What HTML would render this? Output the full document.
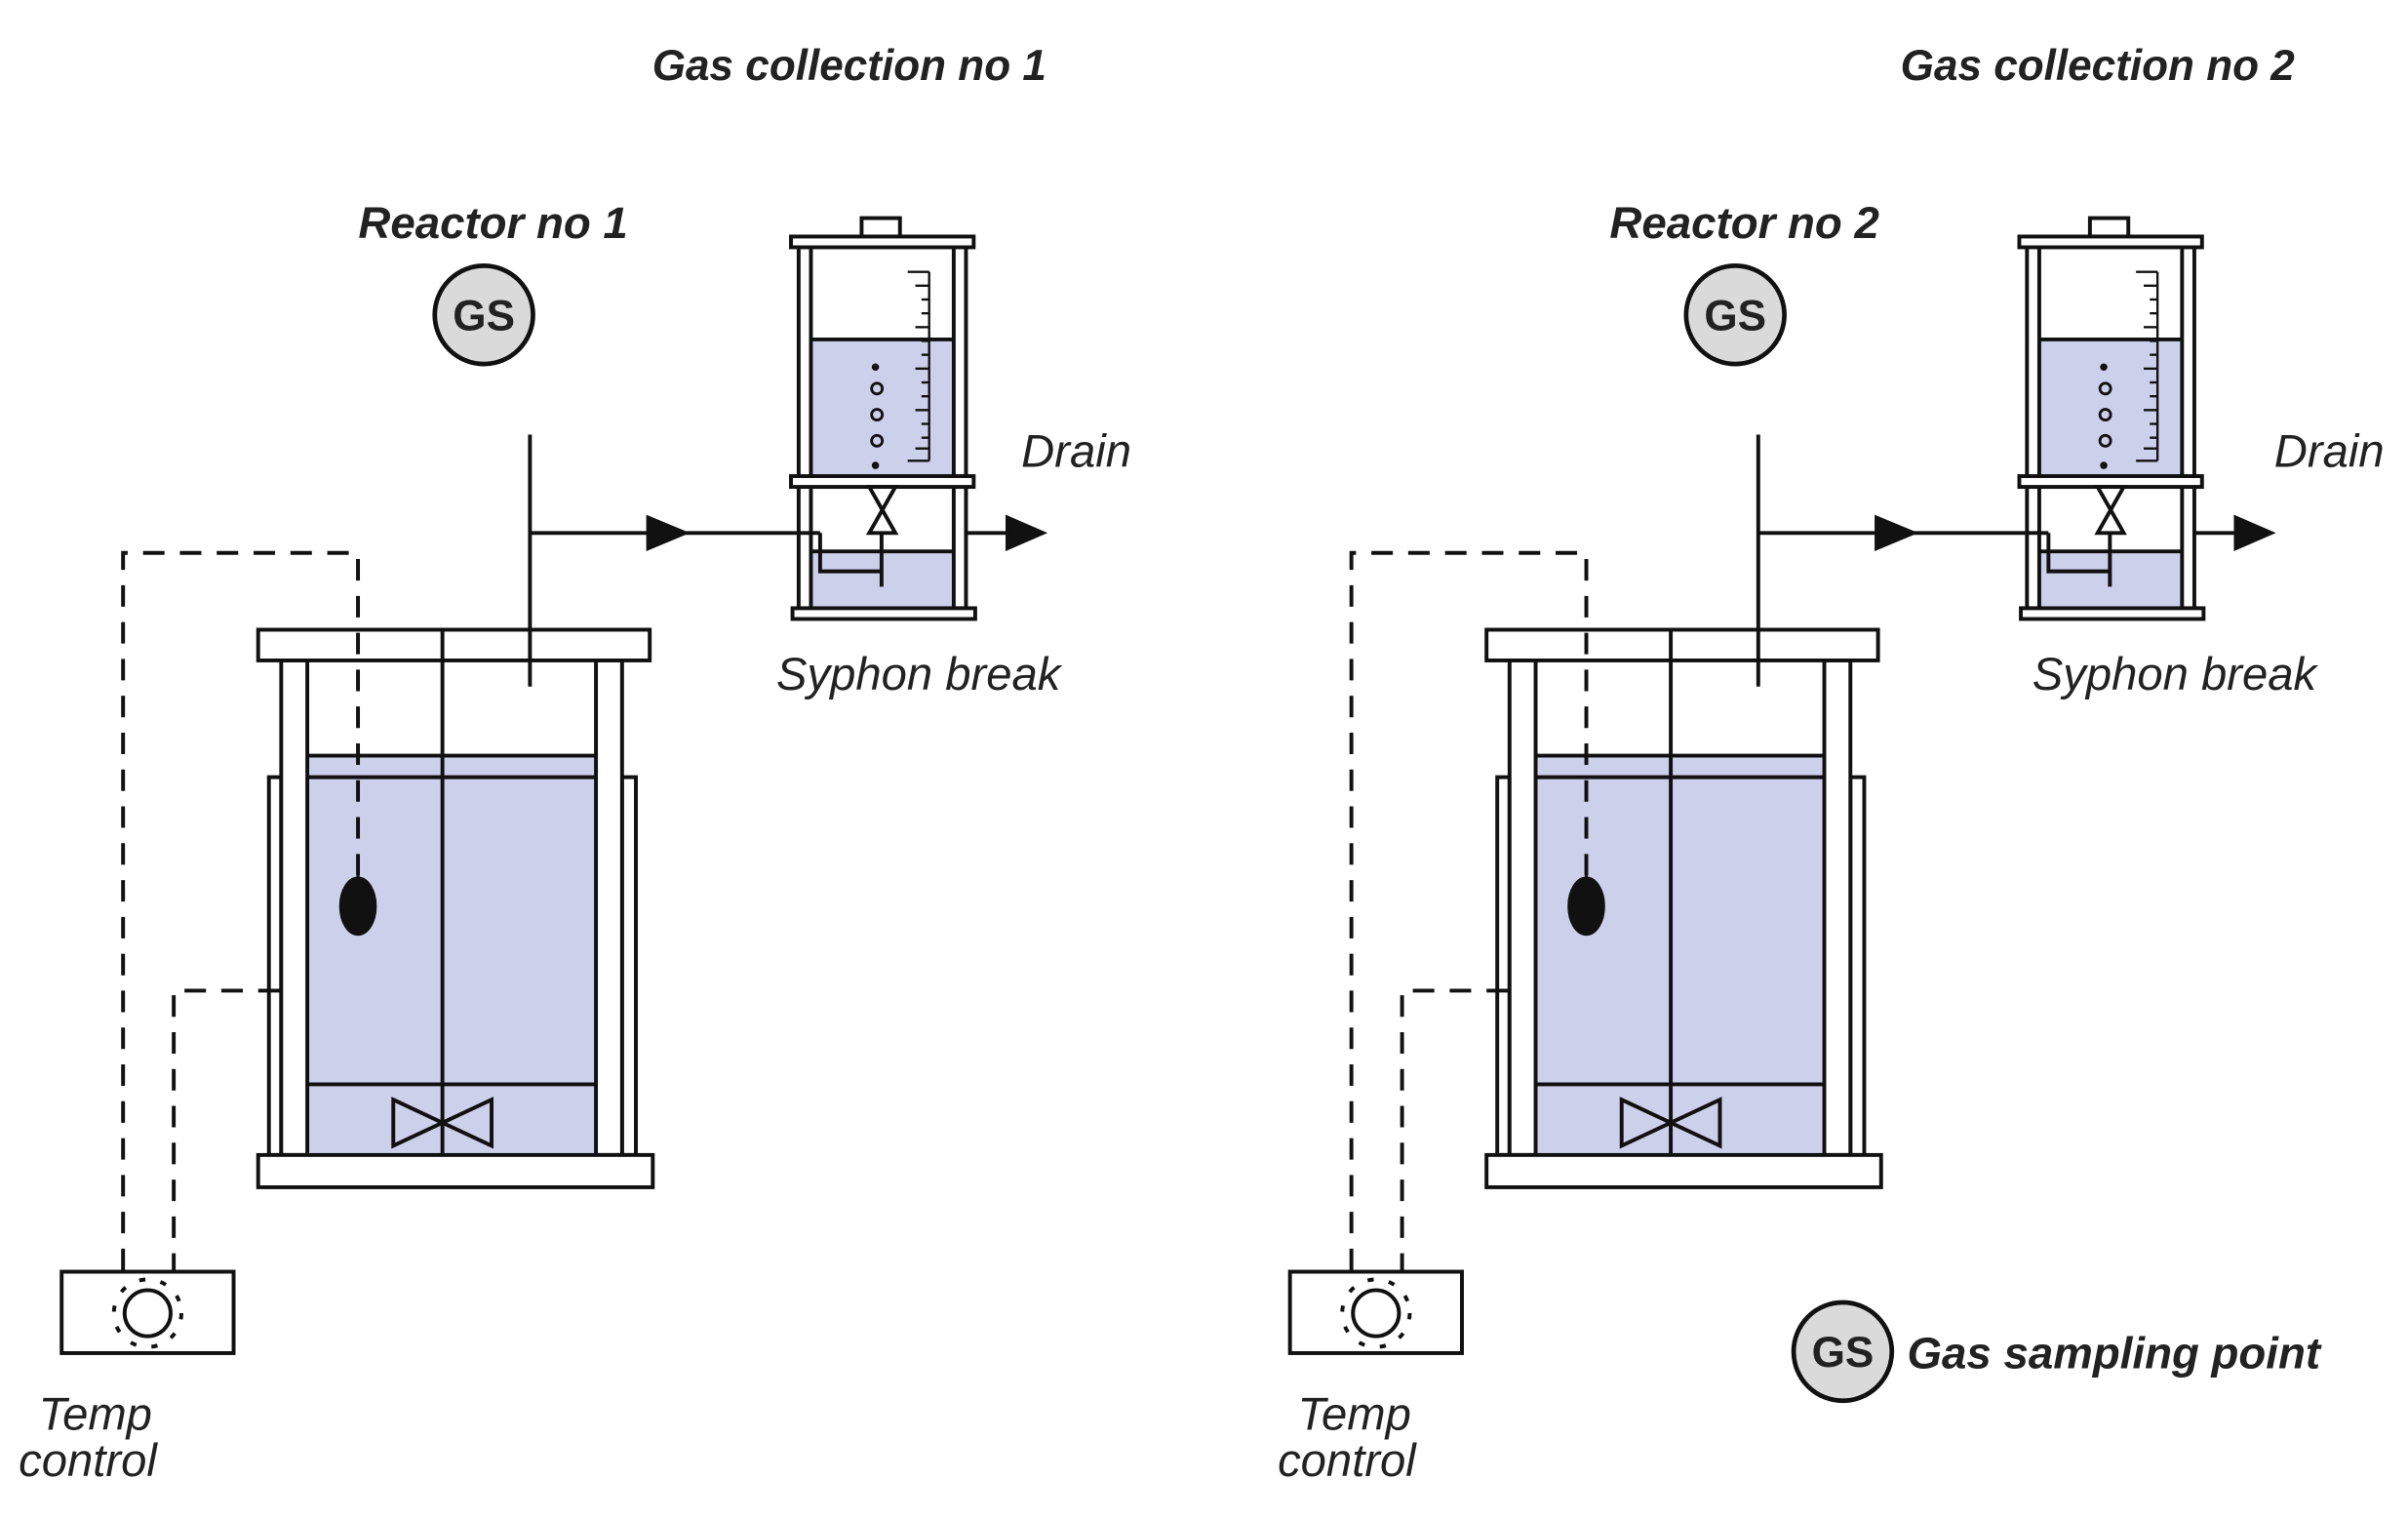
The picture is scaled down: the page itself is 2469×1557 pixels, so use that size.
<!DOCTYPE html>
<html><head><meta charset="utf-8"><style>
html,body{margin:0;padding:0;background:#fff;}
svg{display:block;}
text{font-family:"Liberation Sans",sans-serif;fill:#222;}
.b{font-weight:bold;font-style:italic;}
.i{font-style:italic;}
</style></head><body>
<svg width="2469" height="1557" viewBox="0 0 1568 989" xmlns="http://www.w3.org/2000/svg">
<defs>
<g id="unit" stroke="#111" stroke-width="2.5" fill="none">
  <rect x="200" y="492" width="188" height="260" fill="#ccd0ea" stroke="none"/>
  <line x1="200" y1="492" x2="388" y2="492"/>
  <line x1="200" y1="506" x2="388" y2="506"/>
  <line x1="200" y1="706" x2="388" y2="706"/>
  <rect x="175" y="506" width="8" height="246" fill="#fff"/>
  <rect x="405" y="506" width="9" height="246" fill="#fff"/>
  <rect x="183" y="430" width="17" height="322" fill="#fff"/>
  <rect x="388" y="430" width="17" height="322" fill="#fff"/>
  <rect x="168" y="410" width="255" height="20" fill="#fff"/>
  <rect x="168" y="752" width="257" height="21" fill="#fff"/>
  <line x1="288" y1="410" x2="288" y2="752"/>
  <path d="M256 716 L320 746 L320 716 L256 746 Z"/>
  <line x1="345" y1="283" x2="345" y2="447"/>
  <line x1="345" y1="347" x2="534" y2="347"/>
  <path d="M422 337 L446 347 L422 357 Z" fill="#111"/>
  <line x1="233" y1="570" x2="233" y2="590" stroke-width="2"/>
  <ellipse cx="233" cy="590" rx="11" ry="18" fill="#111"/>
  <path d="M233 570 L233 360 L80 360 L80 828" stroke-dasharray="14 10"/>
  <path d="M182 645 L113 645 L113 828" stroke-dasharray="14 10"/>
  <rect x="40" y="828" width="112" height="53" fill="#fff"/>
  <circle cx="96" cy="855" r="15"/>
  <circle cx="96" cy="855" r="22" stroke-dasharray="4 10" stroke-width="2.5"/>
  <rect x="529" y="221" width="91" height="88" fill="#ccd0ea" stroke="none"/>
  <line x1="529" y1="221" x2="620" y2="221"/>
  <rect x="529" y="359" width="91" height="37" fill="#ccd0ea" stroke="none"/>
  <line x1="529" y1="359" x2="620" y2="359"/>
  <rect x="520" y="160" width="8" height="236" fill="none"/>
  <rect x="621" y="160" width="8" height="236" fill="none"/>
  <rect x="561" y="142" width="25" height="12" fill="#fff"/>
  <rect x="515" y="154" width="119" height="7" fill="#fff"/>
  <rect x="515" y="310" width="119" height="7" fill="#fff"/>
  <rect x="516" y="396" width="119" height="7" fill="#fff"/>
  <g stroke-width="1.5">
    <line x1="605" y1="177" x2="605" y2="300"/>
    <line x1="591" y1="300" x2="605" y2="300"/>
    <line x1="591" y1="177" x2="605" y2="177"/>
    <line x1="596" y1="186" x2="605" y2="186"/><line x1="600" y1="195" x2="605" y2="195"/>
    <line x1="600" y1="204" x2="605" y2="204"/><line x1="596" y1="213" x2="605" y2="213"/>
    <line x1="600" y1="222" x2="605" y2="222"/><line x1="600" y1="231" x2="605" y2="231"/>
    <line x1="596" y1="240" x2="605" y2="240"/><line x1="600" y1="249" x2="605" y2="249"/>
    <line x1="600" y1="258" x2="605" y2="258"/><line x1="596" y1="267" x2="605" y2="267"/>
    <line x1="600" y1="276" x2="605" y2="276"/><line x1="600" y1="285" x2="605" y2="285"/>
    <line x1="596" y1="292" x2="605" y2="292"/>
  </g>
  <g stroke-width="1.8">
    <circle cx="570" cy="239" r="1.5" fill="#111"/>
    <circle cx="571" cy="253" r="3.5"/>
    <circle cx="571" cy="270" r="3.5"/>
    <circle cx="571" cy="287" r="3.5"/>
    <circle cx="570" cy="303" r="1.5" fill="#111"/>
  </g>
  <path d="M566 317 L583 317 L566 347 L583 347 Z" fill="#fff"/>
  <path d="M534 347 L534 372 L574 372"/>
  <line x1="574" y1="347" x2="574" y2="382"/>
  <line x1="629" y1="347" x2="656" y2="347"/>
  <path d="M656 337 L679 347 L656 357 Z" fill="#111"/>
</g>
</defs>
<use href="#unit"/>
<use href="#unit" transform="translate(800,0)"/>

<g fill="#dadada" stroke="#111" stroke-width="3">
  <circle cx="315" cy="205" r="32"/>
  <circle cx="1130" cy="205" r="32"/>
  <circle cx="1200" cy="880" r="32"/>
</g>

<g class="b" font-size="28">
  <text x="553" y="52" text-anchor="middle" font-size="28">Gas collection no 1</text>
  <text x="1366" y="52" text-anchor="middle" font-size="28">Gas collection no 2</text>
  <text x="321" y="155" text-anchor="middle" font-size="29">Reactor no 1</text>
  <text x="1136" y="155" text-anchor="middle" font-size="29">Reactor no 2</text>
  <text x="1242" y="891" font-size="29">Gas sampling point</text>
</g>
<g font-weight="bold" font-size="28" text-anchor="middle">
  <text x="315" y="215">GS</text>
  <text x="1130" y="215">GS</text>
  <text x="1200" y="890">GS</text>
</g>

<g class="i" font-size="30">
  <text x="665" y="304">Drain</text>
  <text x="1481" y="304">Drain</text>
  <text x="598" y="449" text-anchor="middle">Syphon break</text>
  <text x="1416" y="449" text-anchor="middle">Syphon break</text>
  <text x="25" y="931">Temp</text>
  <text x="12" y="961">control</text>
  <text x="845" y="931">Temp</text>
  <text x="832" y="961">control</text>
</g>
</svg>
</body></html>
